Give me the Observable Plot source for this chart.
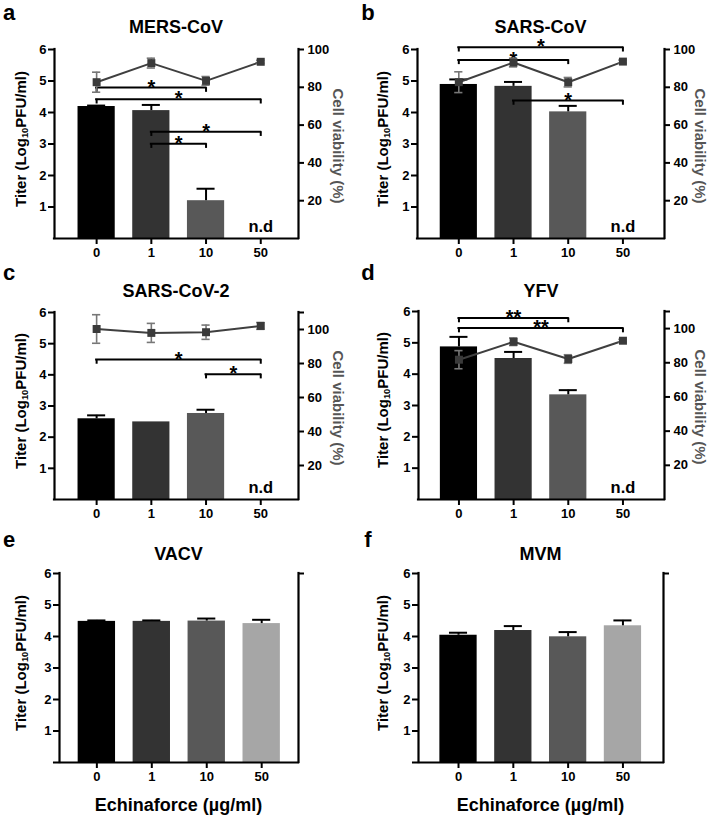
<!DOCTYPE html>
<html><head><meta charset="utf-8">
<script src="https://cdn.jsdelivr.net/npm/d3@7"></script>
<script src="https://cdn.jsdelivr.net/npm/@observablehq/plot@0.6"></script>
<style>
body{margin:0;background:#fff;}
#fig{position:relative;width:709px;height:815px;font-family:"Liberation Sans",Arial,sans-serif;overflow:hidden;background:#fff}
.panel{position:absolute}
.lab{position:absolute;font-weight:bold;white-space:nowrap;line-height:1;color:#000}
.lab sub{font-size:0.62em;vertical-align:-0.22em;line-height:0}
</style></head><body><div id="fig"></div>
<script>
// ---- data ----
const doses = ["0", "1", "10", "50"];
const barShades = ["#000000", "#333333", "#585858", "#a6a6a6"];

const mersTiter = [4.19, 4.06, 1.20, null];
const mersTiterSd = [0.03, 0.18, 0.38, null];
const mersViability = [82.7, 92.8, 83.4, 93.5];
const mersViabilitySd = [5.3, 2.6, 2.3, 0.8];
const mersBrackets = [[0, 2, 4.79, "*"], [0, 3, 4.42, "*"], [1, 3, 3.39, "*"], [1, 2, 3.01, "*"]];

const sarsTiter = [4.89, 4.83, 4.02, null];
const sarsTiterSd = [0.16, 0.14, 0.19, null];
const sarsViability = [82.7, 93.1, 82.7, 93.6];
const sarsViabilitySd = [5.5, 2.3, 2.5, 0.8];
const sarsBrackets = [[0, 3, 6.07, "*"], [0, 2, 5.67, "*"], [1, 3, 4.38, "*"]];

const sars2Titer = [2.59, 2.49, 2.76, null];
const sars2TiterSd = [0.11, 0, 0.12, null];
const sars2Viability = [100.3, 98.0, 98.4, 102.1];
const sars2ViabilitySd = [8.4, 5.6, 4.2, 2.0];
const sars2Brackets = [[0, 3, 4.49, "*"], [2, 3, 4.02, "*"]];

const yfvTiter = [4.87, 4.50, 3.34, null];
const yfvTiterSd = [0.32, 0.21, 0.15, null];
const yfvViability = [81.8, 92.3, 82.2, 92.9];
const yfvViabilitySd = [5.3, 2.2, 2.5, 0.8];
const yfvBrackets = [[0, 2, 5.79, "**"], [0, 3, 5.47, "**"]];

const vacvTiter = [4.48, 4.48, 4.49, 4.41];
const vacvTiterSd = [0.03, 0.03, 0.08, 0.12];

const mvmTiter = [4.04, 4.19, 3.99, 4.34];
const mvmTiterSd = [0.08, 0.14, 0.15, 0.17];

const leftTicks = [1, 2, 3, 4, 5, 6];
const viabilityTicks100 = [20, 40, 60, 80, 100];
const viabilityTicks110 = [20, 40, 60, 80, 100, 110];
const viabilityLabels = [20, 40, 60, 80, 100];

// ---- layout ----
const FONT = '"Liberation Sans", Arial, sans-serif';
const panels = [
  {letter: "a", title: "MERS-CoV", titer: mersTiter, sd: mersTiterSd, via: mersViability, viaSd: mersViabilitySd, viaMax: 100, viaTicks: viabilityTicks100, brackets: mersBrackets,
   left: 0, top: 0, w: 354, h: 270, mL: 54, mR: 56, mT: 49, mB: 32, xd: [-0.77, 3.69], letterY: 13, titleY: 27.3},
  {letter: "b", title: "SARS-CoV", titer: sarsTiter, sd: sarsTiterSd, via: sarsViability, viaSd: sarsViabilitySd, viaMax: 100, viaTicks: viabilityTicks100, brackets: sarsBrackets,
   left: 354, top: 0, w: 355, h: 270, mL: 63, mR: 45, mT: 49, mB: 32, xd: [-0.755, 3.76], letterY: 13, titleY: 27.3},
  {letter: "c", title: "SARS-CoV-2", titer: sars2Titer, sd: sars2TiterSd, via: sars2Viability, viaSd: sars2ViabilitySd, viaMax: 110, viaTicks: viabilityTicks110, brackets: sars2Brackets,
   left: 0, top: 270, w: 354, h: 270, mL: 54, mR: 56, mT: 42, mB: 41, xd: [-0.77, 3.69], letterY: 2.5, titleY: 20.5},
  {letter: "d", title: "YFV", titer: yfvTiter, sd: yfvTiterSd, via: yfvViability, viaSd: yfvViabilitySd, viaMax: 110, viaTicks: viabilityTicks110, brackets: yfvBrackets,
   left: 354, top: 270, w: 355, h: 270, mL: 64, mR: 45, mT: 41, mB: 41, xd: [-0.74, 3.76], letterY: 2.5, titleY: 20.5},
  {letter: "e", title: "VACV", titer: vacvTiter, sd: vacvTiterSd, via: null, viaMax: 100, viaTicks: [100], brackets: [],
   left: 0, top: 540, w: 354, h: 275, mL: 59, mR: 56, mT: 33, mB: 53, xd: [-0.68, 3.67], xTitle: "Echinaforce (µg/ml)", axisExt: 0.09, letterY: -0.5, titleY: 13.5},
  {letter: "f", title: "MVM", titer: mvmTiter, sd: mvmTiterSd, via: null, viaMax: 100, viaTicks: [100], brackets: [],
   left: 354, top: 540, w: 355, h: 275, mL: 64, mR: 46, mT: 33, mB: 53, xd: [-0.73, 3.74], xTitle: "Echinaforce (µg/ml)", axisExt: 0.09, letterY: -0.5, titleY: 13.5}
];

const fig = document.getElementById("fig");
function addLabel(html, x, y, size, opts = {}) {
  const d = document.createElement("div");
  d.className = "lab";
  d.innerHTML = html;
  d.style.fontSize = size + "px";
  d.style.left = x + "px";
  d.style.top = y + "px";
  if (opts.lineHeight) d.style.lineHeight = opts.lineHeight;
  d.style.transform = "translate(-50%,-50%)" + (opts.rotate ? ` rotate(${opts.rotate}deg)` : "");
  if (opts.color) d.style.color = opts.color;
  fig.appendChild(d);
}

for (const p of panels) {
  const k = 6 / p.viaMax;
  const rows = doses.map((dose, i) => ({
    i, dose, titer: p.titer[i], sd: p.sd[i], shade: barShades[i],
    v: p.via ? p.via[i] : null, vsd: p.via ? p.viaSd[i] : null
  }));
  const bars = rows.filter(r => r.titer != null);
  const errs = bars.filter(r => r.sd > 0);
  const nd = rows.filter(r => r.titer == null);
  const br = p.brackets.map(([a, b, y, label]) => ({a, b, y, label}));
  const [x0, x1] = p.xd;
  const ext = p.axisExt || 0;
  const marks = [
    Plot.rectY(bars, {x1: r => r.i - 0.34, x2: r => r.i + 0.34, y1: 0, y2: "titer", fill: "shade"}),
    Plot.ruleX(errs, {x: "i", y1: "titer", y2: r => r.titer + r.sd, stroke: "#000", strokeWidth: 2}),
    Plot.ruleY(errs, {y: r => r.titer + r.sd, x1: r => r.i - 0.165, x2: r => r.i + 0.165, stroke: "#000", strokeWidth: 2}),
    Plot.text(nd, {x: "i", y: 0, text: () => "n.d", dy: -7, lineAnchor: "bottom", fontSize: 16.5, fontWeight: "bold", fill: "#000"}),
    Plot.ruleY(br, {y: "y", x1: "a", x2: "b", stroke: "#000", strokeWidth: 2, strokeLinecap: "square"}),
    Plot.ruleX(br, {x: "a", y1: "y", y2: d => d.y - 0.15, stroke: "#000", strokeWidth: 2}),
    Plot.ruleX(br, {x: "b", y1: "y", y2: d => d.y - 0.15, stroke: "#000", strokeWidth: 2}),
    Plot.text(br, {x: d => (d.a + d.b) / 2, y: "y", text: "label", lineAnchor: "bottom", dy: 6, fontSize: 20, fontWeight: "bold", fill: "#000"})
  ];
  if (p.via) {
    marks.push(
      Plot.line(rows, {x: "i", y: r => r.v * k, stroke: "#3f3f3f", strokeWidth: 2}),
      Plot.ruleX(rows, {x: "i", y1: r => (r.v - r.vsd) * k, y2: r => (r.v + r.vsd) * k, stroke: "#777", strokeWidth: 1.6}),
      Plot.ruleY(rows, {y: r => (r.v + r.vsd) * k, x1: r => r.i - 0.075, x2: r => r.i + 0.075, stroke: "#777", strokeWidth: 1.6}),
      Plot.ruleY(rows, {y: r => (r.v - r.vsd) * k, x1: r => r.i - 0.075, x2: r => r.i + 0.075, stroke: "#777", strokeWidth: 1.6}),
      Plot.dot(rows, {x: "i", y: r => r.v * k, symbol: "square", r: 4.5, fill: "#3a3a3a", stroke: "none"})
    );
  }
  marks.push(
    Plot.axisY({ticks: leftTicks, tickFormat: d => String(d), tickSize: 6, tickPadding: 2, fontSize: 13, fontWeight: "bold", strokeWidth: 2, label: null, color: "#000"}),
    Plot.axisY({anchor: "right", ticks: p.viaTicks.map(v => v * k), tickFormat: t => { const v = Math.round(t / k); return p.via && viabilityLabels.includes(v) ? String(v) : ""; },
      tickSize: 5, tickPadding: 4, fontSize: 13, fontWeight: "bold", strokeWidth: 2, label: null, color: "#000"}),
    Plot.axisX({ticks: [0, 1, 2, 3], tickFormat: i => doses[i], tickSize: 6, tickPadding: 3, fontSize: 13, fontWeight: "bold", strokeWidth: 2, label: null, color: "#000"}),
    Plot.ruleY([0], {x1: x0 - ext, x2: x1, stroke: "#000", strokeWidth: 2.2, strokeLinecap: "square"}),
    Plot.ruleX([x0, x1], {y1: 0, y2: 6, stroke: "#000", strokeWidth: 2.2, strokeLinecap: "square"})
  );
  const chart = Plot.plot({
    width: p.w, height: p.h,
    marginLeft: p.mL, marginRight: p.mR, marginTop: p.mT, marginBottom: p.mB,
    x: {type: "linear", domain: p.xd},
    y: {domain: [0, 6]},
    color: {type: "identity"},
    style: {fontFamily: FONT, color: "#000", background: "transparent", overflow: "visible"},
    marks
  });
  chart.classList.add("panel");
  chart.style.left = p.left + "px";
  chart.style.top = p.top + "px";
  chart.style.maxWidth = "none";
  fig.appendChild(chart);

  // text around the panel
  const fl = p.left + p.mL, fr = p.left + p.w - p.mR, ft = p.top + p.mT, fb = p.top + p.h - p.mB;
  const cx = (fl + fr) / 2, cy = (ft + fb) / 2;
  addLabel(p.letter, p.left + (p.left ? 14 : 9), p.top + p.letterY, 22);
  addLabel(p.title, cx, p.top + p.titleY, 18, {lineHeight: 0.7});
  addLabel("Titer (Log<sub>10</sub>PFU/ml)", p.left + (p.left ? 28 : 20), cy - 5, 15, {rotate: -90});
  if (p.via) addLabel("Cell viability (%)", Math.min(fr + 40, 700), cy + 2, 15, {rotate: 90, color: "#555"});
  if (p.xTitle) addLabel(p.xTitle, cx, fb + 43, 18);
}
</script></body></html>
